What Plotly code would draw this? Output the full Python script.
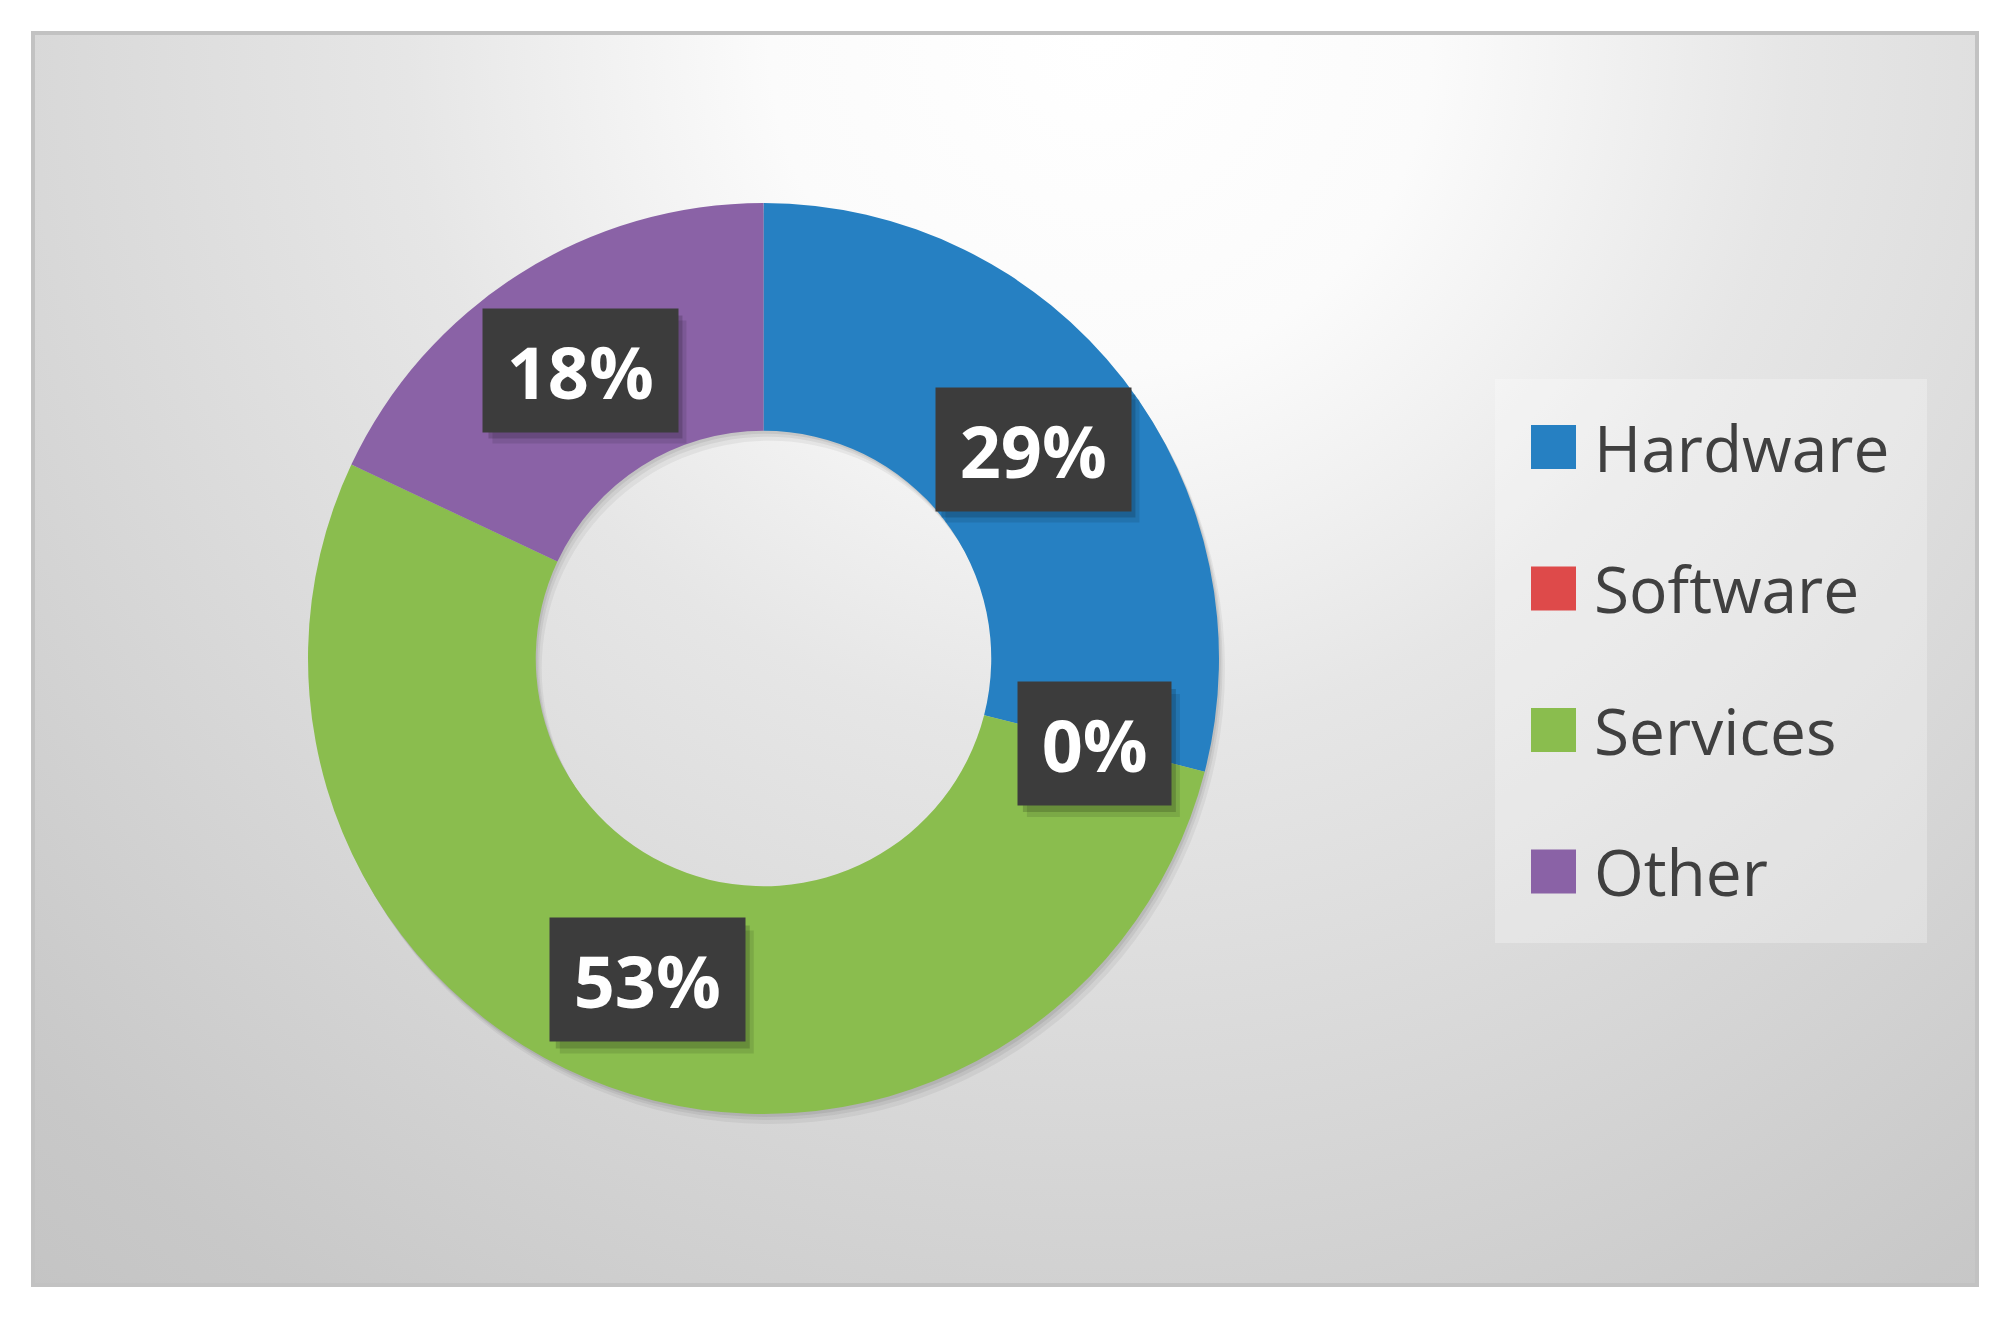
"""Donut chart of share by category (Hardware / Software / Services / Other)."""

from __future__ import annotations

import base64

import numpy as np
import plotly.graph_objects as go

# Data (percent of total).
CATEGORIES = ["Hardware", "Software", "Services", "Other"]
SHARES = [29, 0, 53, 18]
COLORS = ["#2680C2", "#DE4A4A", "#8ABD4E", "#8A62A6"]

# Page / frame geometry (pixels).
WIDTH, HEIGHT = 2012, 1323
FRAME = (31, 31, 1979, 1287)
CX, CY, R_OUT = 763.5, 658.5, 455.5
HOLE = 0.5

LEGEND_BOX = (1495, 379, 1927, 943)
LEGEND_Y0, LEGEND_STEP = 447, 141.5

# data label box: height and rough glyph widths used for the drop shadow
LABEL_H = 123
DIGIT_W, PCT_W, LABEL_PAD = 41, 60, 26

FONT = "Open Sans, Noto Sans, DejaVu Sans, sans-serif"


def px(x: float) -> float:
    return x / WIDTH


def py(y: float) -> float:
    return 1 - y / HEIGHT


def _background_uri() -> str:
    """Soft radial grey gradient used as the chart area fill."""
    w = FRAME[2] - FRAME[0]
    h = FRAME[3] - FRAME[1]
    svg = (
        f'<svg xmlns="http://www.w3.org/2000/svg" width="{w}" height="{h}" '
        f'viewBox="0 0 {w} {h}"><defs>'
        '<radialGradient id="g" gradientUnits="userSpaceOnUse" cx="1069" cy="9" r="1650">'
        '<stop offset="0" stop-color="#ffffff"/>'
        '<stop offset="0.20" stop-color="#fbfbfb"/>'
        '<stop offset="0.42" stop-color="#e6e6e6"/>'
        '<stop offset="0.52" stop-color="#e0e0e0"/>'
        '<stop offset="0.68" stop-color="#d6d6d6"/>'
        '<stop offset="0.90" stop-color="#c8c8c8"/>'
        '<stop offset="1" stop-color="#c4c4c4"/>'
        "</radialGradient></defs>"
        f'<rect width="{w}" height="{h}" fill="url(#g)"/></svg>'
    )
    return "data:image/svg+xml;base64," + base64.b64encode(svg.encode()).decode()


def _donut_domain(dx: float = 0, dy: float = 0) -> dict:
    return {
        "x": [px(CX - R_OUT + dx), px(CX + R_OUT + dx)],
        "y": [py(CY + R_OUT + dy), py(CY - R_OUT + dy)],
    }


values = np.array(SHARES, dtype=float)
fig = go.Figure()

# soft drop shadow under the ring
for off, alpha in [(10, 0.05), (6, 0.06), (3, 0.07)]:
    fig.add_trace(
        go.Pie(
            values=[1],
            hole=HOLE,
            domain=_donut_domain(off * 0.6, off),
            marker={"colors": [f"rgba(0,0,0,{alpha})"], "line": {"width": 0}},
            textinfo="none",
            hoverinfo="skip",
            showlegend=False,
            sort=False,
        )
    )

fig.add_trace(
    go.Pie(
        labels=CATEGORIES,
        values=SHARES,
        hole=HOLE,
        domain=_donut_domain(),
        direction="clockwise",
        rotation=0,
        sort=False,
        marker={"colors": COLORS, "line": {"width": 0}},
        textinfo="none",
        showlegend=False,
    )
)

# data labels: dark boxes centred in the ring at each slice's mid angle
mid = (np.cumsum(values) - values / 2) / values.sum() * 2 * np.pi
r_mid = R_OUT * (1 + HOLE) / 2
lab_x = CX + r_mid * np.sin(mid)
lab_y = CY - r_mid * np.cos(mid)
pct = [f"{round(100 * v / values.sum())}%" for v in values]

shapes = []
annotations = []
for x, y, text in zip(lab_x, lab_y, pct):
    half_w = (2 * LABEL_PAD + DIGIT_W * (len(text) - 1) + PCT_W) / 2
    for sx, sy, a in [(9, -12, 0.10), (5, -7, 0.16)]:
        shapes.append(
            dict(
                type="rect", xref="paper", yref="paper",
                xsizemode="pixel", ysizemode="pixel",
                xanchor=px(x), yanchor=py(y),
                x0=-half_w + sx, x1=half_w + sx,
                y0=-LABEL_H / 2 + sy, y1=LABEL_H / 2 + sy,
                fillcolor=f"rgba(0,0,0,{a})", line={"width": 0}, layer="above",
            )
        )
    annotations.append(
        dict(
            x=px(x), y=py(y), xref="paper", yref="paper",
            xanchor="center", yanchor="middle", showarrow=False,
            text=f"\u00a0{text}\u00a0",
            font={"family": FONT, "size": 72, "color": "#ffffff", "weight": "bold"},
            bgcolor="#3c3c3c", borderpad=5, height=LABEL_H - 10,
        )
    )

shapes.append(
    dict(
        type="rect", xref="paper", yref="paper",
        x0=px(LEGEND_BOX[0]), x1=px(LEGEND_BOX[2]),
        y0=py(LEGEND_BOX[3]), y1=py(LEGEND_BOX[1]),
        fillcolor="rgba(255,255,255,0.28)", line={"width": 0}, layer="above",
    )
)

# legend entries (large swatches, as in the original)
for i, (name, color) in enumerate(zip(CATEGORIES, COLORS)):
    yc = LEGEND_Y0 + i * LEGEND_STEP
    shapes.append(
        dict(
            type="rect", xref="paper", yref="paper",
            x0=px(1531), x1=px(1576), y0=py(yc + 22), y1=py(yc - 22),
            fillcolor=color, line={"width": 0}, layer="above",
        )
    )
    annotations.append(
        dict(
            x=px(1592), y=py(yc), xref="paper", yref="paper",
            xanchor="left", yanchor="middle", text=name, showarrow=False,
            font={"family": FONT, "size": 64, "color": "#404040"},
        )
    )

# frame border
shapes.append(
    dict(
        type="rect", xref="paper", yref="paper",
        x0=px(FRAME[0] + 2), x1=px(FRAME[2] - 2),
        y0=py(FRAME[3] - 2), y1=py(FRAME[1] + 2),
        line={"color": "#c2c2c2", "width": 4}, fillcolor="rgba(0,0,0,0)",
    )
)

fig.update_layout(
    width=WIDTH,
    height=HEIGHT,
    margin={"l": 0, "r": 0, "t": 0, "b": 0},
    paper_bgcolor="#ffffff",
    showlegend=False,
    annotations=annotations,
    shapes=shapes,
    images=[
        dict(
            source=_background_uri(),
            xref="paper", yref="paper",
            x=px(FRAME[0]), y=py(FRAME[1]),
            sizex=(FRAME[2] - FRAME[0]) / WIDTH,
            sizey=(FRAME[3] - FRAME[1]) / HEIGHT,
            xanchor="left", yanchor="top",
            sizing="stretch", layer="below",
        )
    ],
)

fig.write_html(
    "out.html",
    config={"displayModeBar": False},
    post_script="document.body.style.margin = '0';",
)
